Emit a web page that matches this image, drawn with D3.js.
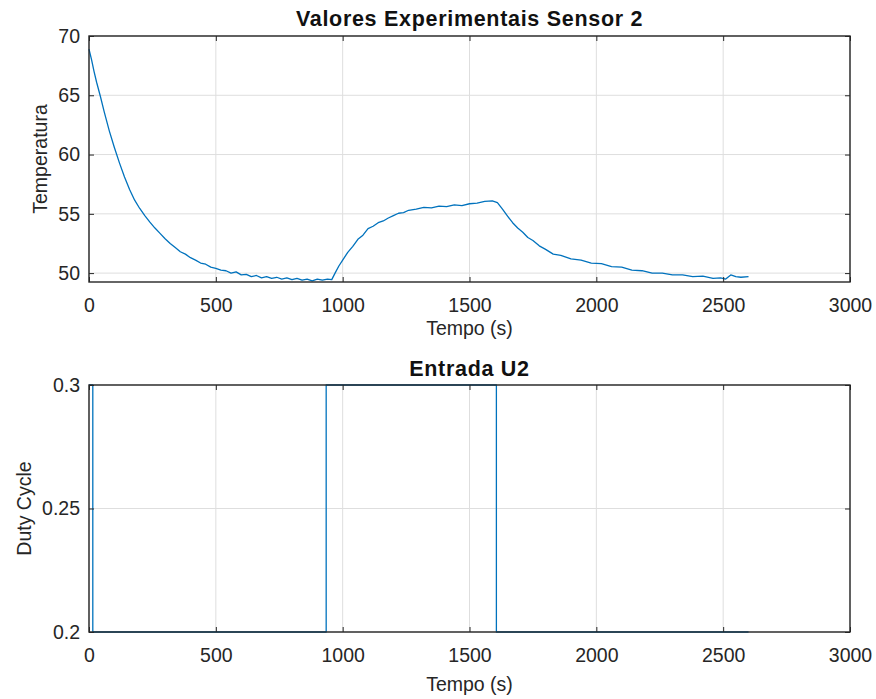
<!DOCTYPE html>
<html lang="pt">
  <head>
    <meta charset="utf-8">
    <title>Valores Experimentais Sensor 2</title>
    <script type="text/javascript" src="https://d3js.org/d3.v7.min.js"></script>
    <style type="text/css">
    body {
      margin: 0;
      background: #ffffff;
    }
    text {
      font-family: "Liberation Sans", Arial, Helvetica, sans-serif;
    }
    .tick text {
      font-size: 19.5px;
      fill: #262626;
    }
    .tick line {
      stroke: #262626;
    }
    .grid line {
      stroke: #dedede;
      stroke-width: 1px;
    }
    .label {
      font-size: 19.5px;
      fill: #262626;
    }
    .title {
      font-size: 21.5px;
      font-weight: bold;
      fill: #111111;
      letter-spacing: 0.7px;
    }
    </style>
  </head>
  <body>
    <svg width="876" height="699" id="fig"></svg>

    <script type="text/javascript">

    const width = 876;
    const height = 699;

    // sensor 2 temperature (s, °C)
    const tempo = [
      0, 10, 20, 30, 45, 60, 80, 100, 120, 140, 160, 180, 200, 220, 240, 260, 280, 300,
      320, 340, 360, 380, 400, 420, 440, 460, 480, 500, 520, 540, 560, 580, 600, 620,
      640, 660, 680, 700, 720, 740, 760, 780, 800, 820, 840, 860, 880, 900, 920, 940,
      957, 970, 985, 1000, 1020, 1040, 1060, 1080, 1100, 1120, 1140, 1160, 1180, 1200,
      1220, 1240, 1260, 1290, 1320, 1350, 1380, 1410, 1440, 1470, 1500, 1530, 1560,
      1590, 1610, 1630, 1650, 1670, 1690, 1710, 1730, 1750, 1775, 1800, 1830, 1860,
      1900, 1940, 1980, 2020, 2060, 2100, 2140, 2180, 2220, 2260, 2300, 2340, 2380,
      2420, 2460, 2490, 2510, 2530, 2550, 2570, 2600
    ];
    const temperatura = [
      68.9, 68.0, 67.0, 66.1, 64.9, 63.6, 62.0, 60.6, 59.3, 58.1, 57.05, 56.15, 55.45, 54.85, 54.3, 53.8, 53.35, 52.9,
      52.5, 52.15, 51.8, 51.6, 51.3, 51.1, 50.85, 50.75, 50.5, 50.4, 50.25, 50.2, 50.0, 50.1, 49.85, 49.9,
      49.7, 49.8, 49.6, 49.7, 49.55, 49.65, 49.5, 49.6, 49.45, 49.55, 49.4, 49.5, 49.35, 49.5, 49.4, 49.5,
      49.45, 50.0, 50.6, 51.1, 51.75, 52.25, 52.85, 53.2, 53.75, 53.95, 54.25, 54.4, 54.65, 54.85,
      55.05, 55.1, 55.3, 55.4, 55.55, 55.5, 55.65, 55.6, 55.75, 55.7, 55.85, 55.9, 56.05,
      56.1, 55.95, 55.4, 54.8, 54.25, 53.8, 53.45, 53.0, 52.75, 52.3, 52.0, 51.6, 51.5,
      51.2, 51.1, 50.85, 50.8, 50.55, 50.5, 50.25, 50.2, 50.0, 50.0, 49.85, 49.85, 49.7,
      49.75, 49.55, 49.6, 49.5, 49.85, 49.7, 49.65, 49.7
    ];

    // input U2 duty cycle, value held until next change
    const tempoU = [0, 15, 935, 1606, 2600];
    const dutyCycle = [0.3, 0.2, 0.3, 0.2, 0.2];

    const xTicks = [0, 500, 1000, 1500, 2000, 2500, 3000];
    const yTicksTemp = [50, 55, 60, 65, 70];
    const yTicksDuty = [0.2, 0.25, 0.3];

    const svg = d3.select("#fig");

    function panel(opt) {
      const xScale = d3.scaleLinear()
          .domain([0, 3000])
          .range([opt.left, opt.right]);

      const yScale = d3.scaleLinear()
          .domain(opt.yDomain)
          .range([opt.bottom, opt.top]);

      const g = svg.append("g");

      // grid
      g.append("g")
          .attr("class", "grid")
          .selectAll("line.gx")
          .data(xTicks)
          .enter()
          .append("line")
          .attr("x1", d => xScale(d))
          .attr("x2", d => xScale(d))
          .attr("y1", opt.top)
          .attr("y2", opt.bottom);

      g.append("g")
          .attr("class", "grid")
          .selectAll("line.gy")
          .data(opt.yTicks)
          .enter()
          .append("line")
          .attr("x1", opt.left)
          .attr("x2", opt.right)
          .attr("y1", d => yScale(d))
          .attr("y2", d => yScale(d));

      // data line
      const line = d3.line()
          .x(d => xScale(d[0]))
          .y(d => yScale(d[1]))
          .curve(opt.curve);

      g.append("path")
          .datum(opt.xs.map((x, i) => [x, opt.ys[i]]))
          .attr("d", line)
          .attr("fill", "none")
          .attr("stroke", "#0072bd")
          .attr("stroke-width", 1.3)
          .attr("stroke-linejoin", "round");

      // axes, ticks pointing inward
      g.append("g")
          .attr("transform", "translate(0," + opt.bottom + ")")
          .call(d3.axisBottom(xScale).tickValues(xTicks).tickSize(-5).tickPadding(16)
                .tickFormat(d => String(d)));

      g.append("g")
          .attr("transform", "translate(" + opt.left + ",0)")
          .call(d3.axisLeft(yScale).tickValues(opt.yTicks).tickSize(-5).tickPadding(9)
                .tickFormat(d => String(d)));

      g.append("g")
          .attr("transform", "translate(0," + opt.top + ")")
          .call(d3.axisTop(xScale).tickValues(xTicks).tickSize(-5).tickFormat(""));

      g.append("g")
          .attr("transform", "translate(" + opt.right + ",0)")
          .call(d3.axisRight(yScale).tickValues(opt.yTicks).tickSize(-5).tickFormat(""));

      g.selectAll(".domain").remove();

      g.append("rect")
          .attr("x", opt.left)
          .attr("y", opt.top)
          .attr("width", opt.right - opt.left)
          .attr("height", opt.bottom - opt.top)
          .attr("fill", "none")
          .attr("stroke", "#262626")
          .attr("stroke-width", 1.4);

      g.append("text")
          .attr("class", "title")
          .attr("text-anchor", "middle")
          .attr("x", (opt.left + opt.right) / 2)
          .attr("y", opt.titleY)
          .text(opt.title);

      g.append("text")
          .attr("class", "label")
          .attr("text-anchor", "middle")
          .attr("x", (opt.left + opt.right) / 2)
          .attr("y", opt.xLabelY)
          .text("Tempo (s)");

      g.append("text")
          .attr("class", "label")
          .attr("text-anchor", "middle")
          .attr("transform", "translate(" + opt.yLabelX + "," + (opt.top + opt.bottom) / 2 + ") rotate(-90)")
          .text(opt.yLabel);
    }

    panel({
      left: 89, right: 850, top: 36, bottom: 282,
      yDomain: [49.25, 70],
      yTicks: yTicksTemp,
      xs: tempo, ys: temperatura,
      curve: d3.curveLinear,
      title: "Valores Experimentais Sensor 2",
      titleY: 26,
      xLabelY: 335,
      yLabel: "Temperatura",
      yLabelX: 47
    });

    panel({
      left: 89, right: 850, top: 385, bottom: 632,
      yDomain: [0.2, 0.3],
      yTicks: yTicksDuty,
      xs: tempoU, ys: dutyCycle,
      curve: d3.curveStepAfter,
      title: "Entrada U2",
      titleY: 376,
      xLabelY: 691,
      yLabel: "Duty Cycle",
      yLabelX: 31
    });

    </script>
  </body>
</html>
